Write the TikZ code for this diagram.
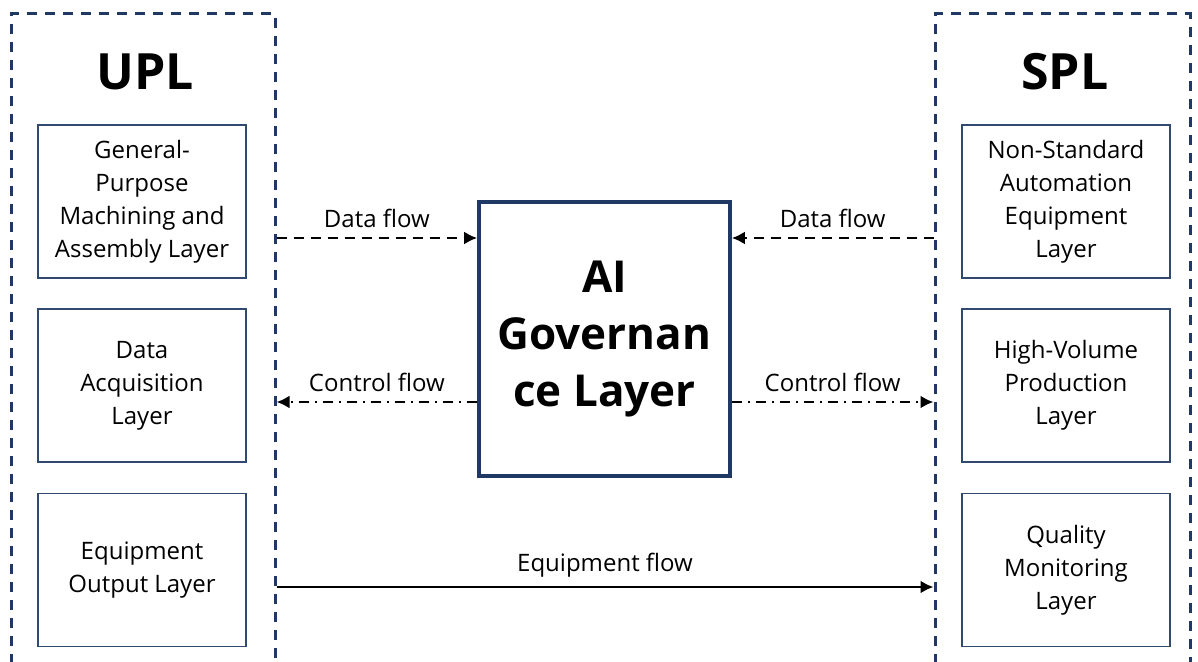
\documentclass[tikz,border=0pt]{standalone}
\usepackage{fontspec}
\setmainfont{Open Sans}
\usepackage{xcolor}
\usetikzlibrary{positioning}
\usetikzlibrary{arrows.meta}
\definecolor{navy}{HTML}{203864}
\definecolor{boxline}{HTML}{2F4A6E}
\tikzset{edge/.style = {->,> = {Latex[length=6.5pt,width=6.5pt]}}}

\begin{document}
\begin{tikzpicture}[x=0.5pt,y=-0.5pt,
  group node/.style={draw=navy,line width=1.5pt,dash pattern=on 5pt off 4pt,minimum height=343pt,inner sep=0pt},
  layer node/.style={draw=boxline,line width=0.9pt,minimum width=104pt,minimum height=76.5pt,align=center,font=\fontsize{12}{16.5}\selectfont},
  title node/.style={font=\fontsize{25}{30}\selectfont\bfseries},
  flow label/.style={font=\fontsize{12}{14}\selectfont,above=1pt}]
  \useasboundingbox (0,0) rectangle (1198,662);
  \clip (0,0) rectangle (1198,662);
  \node[group node,minimum width=132pt] (upl) at (143,357) {};
  \node[group node,minimum width=127.5pt] (spl) at (1062.5,357) {};
  \node[title node] (upltitle) at (145,72) {UPL};
  \node[title node] (spltitle) at (1065,72) {SPL};
  \node[layer node] (gp) at (142,201.5) {General-\\Purpose\\Machining and\\Assembly Layer};
  \node[layer node] (da) at (142,385.5) {Data\\Acquisition\\Layer};
  \node[layer node] (eo) at (142,570) {Equipment\\Output Layer};
  \node[layer node] (ns) at (1066,201.5) {Non-Standard\\Automation\\Equipment\\Layer};
  \node[layer node] (hv) at (1066,385.5) {High-Volume\\Production\\Layer};
  \node[layer node] (qm) at (1066,570) {Quality\\Monitoring\\Layer};
  \node[draw=navy,line width=1.8pt,minimum width=125.5pt,minimum height=137pt,align=center,
        font=\fontsize{22}{28.5}\selectfont\bfseries] (gov) at (604.5,339) {AI\\Governan\\ce Layer};
  \coordinate (datay) at (0,238);
  \coordinate (ctrly) at (0,402);
  \coordinate (equipy) at (0,587);
  \draw[edge,line width=1.3pt,dash pattern=on 5pt off 3.5pt] (upl.east |- datay) -- node[flow label] {Data flow} (gov.west |- datay);
  \draw[edge,line width=1.3pt,dash pattern=on 5pt off 3.5pt] (spl.west |- datay) -- node[flow label] {Data flow} (gov.east |- datay);
  \draw[edge,line width=1.3pt,dash pattern=on 5pt off 3pt on 1pt off 3pt] (gov.west |- ctrly) -- node[flow label] {Control flow} (upl.east |- ctrly);
  \draw[edge,line width=1.3pt,dash pattern=on 5pt off 3pt on 1pt off 3pt] (gov.east |- ctrly) -- node[flow label] {Control flow} (spl.west |- ctrly);
  \draw[edge,line width=1.3pt] (upl.east |- equipy) -- node[flow label] {Equipment flow} (spl.west |- equipy);
\end{tikzpicture}
\end{document}
